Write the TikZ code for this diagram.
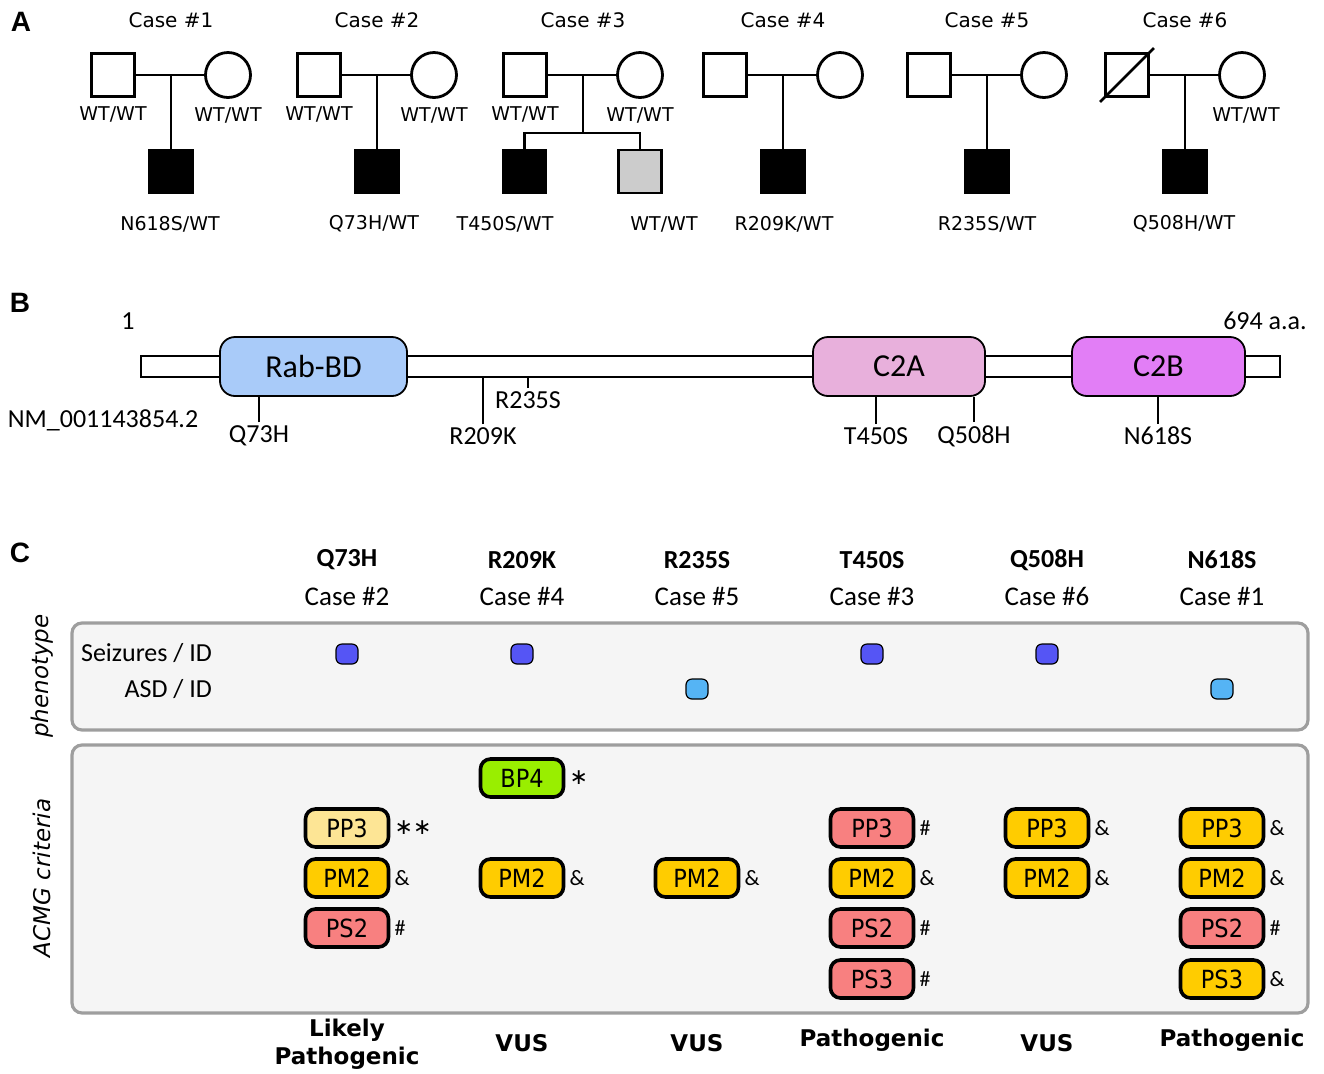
\documentclass[tikz,border=0pt]{standalone}
\usepackage{fontspec}
\setmainfont{DejaVu Sans}
\newfontfamily\calfont{Carlito}
\newfontfamily\condfont{DejaVu Sans Condensed}
\newfontfamily\headfont{Liberation Sans}
\usetikzlibrary{positioning}

\definecolor{rabblue}{HTML}{A9CBF9}
\definecolor{ctwoa}{HTML}{E8B0DC}
\definecolor{ctwob}{HTML}{E27EF6}
\definecolor{seiz}{HTML}{5555F5}
\definecolor{asd}{HTML}{55B4F5}
\definecolor{gold}{HTML}{FFCC00}
\definecolor{salmon}{HTML}{F88080}
\definecolor{paleyel}{HTML}{FDE595}
\definecolor{lime}{HTML}{99EE00}
\definecolor{panelgray}{HTML}{F5F5F5}

\begin{document}
\begin{tikzpicture}[x=0.5pt,y=-0.5pt,line width=1.4pt]

        \tikzstyle{male}=[draw, fill=white, minimum size=21.5pt, inner sep=0pt]
        \tikzstyle{female}=[draw, fill=white, circle, minimum size=22.5pt, inner sep=0pt]
        \tikzstyle{affected}=[male, fill=black]
        \tikzstyle{gt}=[inner sep=1pt, font=\fontsize{9.5}{11}\selectfont]
        \tikzstyle{casehead}=[font=\fontsize{10}{12}\selectfont]
        \tikzstyle{tag}=[font=\headfont\bfseries\fontsize{14}{16}\selectfont]
        \tikzstyle{protdom}=[draw, line width=0.9pt, rounded corners=7.5pt, minimum height=29.5pt, inner sep=0pt, font=\calfont\fontsize{16}{19}\selectfont]
        \tikzstyle{mut}=[inner sep=1pt, font=\calfont\fontsize{13}{15}\selectfont]
        \tikzstyle{muthead}=[font=\calfont\bfseries\fontsize{13}{15}\selectfont]
        \tikzstyle{colcase}=[font=\calfont\fontsize{13.5}{16}\selectfont]
        \tikzstyle{panel}=[draw=black!38, fill=panelgray, line width=1.6pt, rounded corners=5pt]
        \tikzstyle{sidelab}=[rotate=90, font=\itshape\fontsize{11.5}{14}\selectfont]
        \tikzstyle{pheno}=[anchor=east, font=\calfont\fontsize{13}{16}\selectfont]
        \tikzstyle{dot}=[draw, line width=0.6pt, rounded corners=3pt, minimum width=11pt, minimum height=10pt, inner sep=0pt]
        \tikzstyle{crit}=[draw, line width=1.8pt, rounded corners=5pt, minimum width=41.5pt, minimum height=19pt, inner sep=0pt, font=\condfont\fontsize{12.5}{14}\selectfont]
        \tikzstyle{flag}=[inner sep=0.5pt, font=\calfont\fontsize{11}{13}\selectfont]
        \tikzstyle{verdict}=[align=center, font=\bfseries\fontsize{11.5}{14}\selectfont]

        \useasboundingbox (0,0) rectangle (1324,1073);

        % A: pedigrees
        \node[tag] at (21,22)   {A};
        \foreach \n/\v in {1/171, 2/377, 3/583, 4/783, 5/987, 6/1185} {
            \node[casehead]  (case\n) at (\v,20)    {Case \#\n};
            \node[male]      (f\n)    at (\v-58,75) {};
            \node[female]    (m\n)    at (\v+57,75) {};
            \coordinate      (j\n)    at (\v,75);
            \draw (f\n) -- (m\n);
        }

        \node[affected] (c1)  at (171,171.5)   {};
        \node[affected] (c2)  at (377,171.5)   {};
        \node[affected] (c3a) at (524.5,171.5) {};
        \node[male, fill=black!20] (c3b) at (640,171.5) {};
        \node[affected] (c4)  at (783,171.5)   {};
        \node[affected] (c5)  at (987,171.5)   {};
        \node[affected] (c6)  at (1185,171.5)  {};
        \coordinate     (s3)  at (583,133);

        \draw (j1) -- (c1);
        \draw (j2) -- (c2);
        \draw (j3) -- (s3);
        \draw (c3a) |- (s3) -| (c3b);
        \draw (j4) -- (c4);
        \draw (j5) -- (c5);
        \draw (j6) -- (c6);
        \draw ([shift={(-4,4)}]f6.south west) -- ([shift={(4,-4)}]f6.north east);

        \node[gt, below=2.5pt of f1] {WT/WT};
        \node[gt, below=2.5pt of m1] {WT/WT};
        \node[gt, below=2.5pt of f2] {WT/WT};
        \node[gt, below=2.5pt of m2] {WT/WT};
        \node[gt, below=2.5pt of f3] {WT/WT};
        \node[gt, below=2.5pt of m3] {WT/WT};
        \node[gt, below=2.5pt of m6, xshift=2pt] {WT/WT};

        \node[gt] at (170,224)  {N618S/WT};
        \node[gt] at (374,224)  {Q73H/WT};
        \node[gt] at (505,224)  {T450S/WT};
        \node[gt] at (664,224)  {WT/WT};
        \node[gt] at (784,224)  {R209K/WT};
        \node[gt] at (987,224)  {R235S/WT};
        \node[gt] at (1184,224) {Q508H/WT};

        % B: protein
        \node[tag] at (20,303) {B};
        \node[mut] at (128,321)  {1};
        \node[mut] at (1265,321) {694 a.a.};
        \node[mut] at (103,420)  {NM\_001143854.2};

        \node[draw, fill=white, line width=0.9pt, minimum width=569.5pt, minimum height=10.5pt, inner sep=0pt] (prot) at (710.5,366.5) {};
        \node[protdom, fill=rabblue, minimum width=93.5pt] (rab) at (313.5,366.5) {Rab-BD};
        \node[protdom, fill=ctwoa,   minimum width=86pt]   (c2a) at (899,366.5)   {C2A};
        \node[protdom, fill=ctwob,   minimum width=86.5pt] (c2b) at (1158.5,366.5) {C2B};

        \node[mut] (q73)  at (259,436)  {Q73H};
        \node[mut] (r209) at (483,436)  {R209K};
        \node[mut] (r235) at (528,400)  {R235S};
        \node[mut] (t450) at (876,436)  {T450S};
        \node[mut] (q508) at (974,436)  {Q508H};
        \node[mut] (n618) at (1158,436) {N618S};

        \begin{scope}[line width=0.9pt]
        \draw (q73.north)  -- (q73.north |- rab.south);
        \draw (r209.north) -- (r209.north |- prot.south);
        \draw (r235.north) -- (r235.north |- prot.south);
        \draw (t450.north) -- (t450.north |- c2a.south);
        \draw (q508.north) -- (q508.north |- c2a.south);
        \draw (n618.north) -- (n618.north |- c2b.south);
        \end{scope}

        % C: summary
        \node[tag] at (20,553) {C};
        \foreach \i/\mt/\cs in {1/Q73H/2, 2/R209K/4, 3/R235S/5, 4/T450S/3, 5/Q508H/6, 6/N618S/1} {
            \node[muthead] (h\i) at (172+175*\i,560) {\mt};
            \node[colcase]       at (172+175*\i,596) {Case \#\cs};
        }

        \draw[panel] (72,623) rectangle (1308,730);
        \draw[panel] (72,745) rectangle (1308,1013);
        \node[sidelab] at (42,676) {phenotype};
        \node[sidelab] at (42,878) {ACMG criteria};

        \node[pheno] at (220,653) {Seizures / ID};
        \node[pheno] at (220,689) {ASD / ID};

        \node[dot, fill=seiz] (d1) at (347,654)  {};
        \node[dot, fill=seiz] (d2) at (522,654)  {};
        \node[dot, fill=asd]  (d3) at (697,689)  {};
        \node[dot, fill=seiz] (d4) at (872,654)  {};
        \node[dot, fill=seiz] (d5) at (1047,654) {};
        \node[dot, fill=asd]  (d6) at (1222,689) {};

        \node[crit, fill=paleyel] (pp3a) at (347,828)  {PP3};
        \node[crit, fill=gold]    (pm2a) at (347,878)  {PM2};
        \node[crit, fill=salmon]  (ps2a) at (347,928)  {PS2};
        \node[crit, fill=lime]    (bp4b) at (522,778)  {BP4};
        \node[crit, fill=gold]    (pm2b) at (522,878)  {PM2};
        \node[crit, fill=gold]    (pm2c) at (697,878)  {PM2};
        \node[crit, fill=salmon]  (pp3d) at (872,828)  {PP3};
        \node[crit, fill=gold]    (pm2d) at (872,878)  {PM2};
        \node[crit, fill=salmon]  (ps2d) at (872,928)  {PS2};
        \node[crit, fill=salmon]  (ps3d) at (872,979)  {PS3};
        \node[crit, fill=gold]    (pp3e) at (1047,828) {PP3};
        \node[crit, fill=gold]    (pm2e) at (1047,878) {PM2};
        \node[crit, fill=gold]    (pp3f) at (1222,828) {PP3};
        \node[crit, fill=gold]    (pm2f) at (1222,878) {PM2};
        \node[crit, fill=salmon]  (ps2f) at (1222,928) {PS2};
        \node[crit, fill=gold]    (ps3f) at (1222,979) {PS3};

        \node[flag, right=1pt of pp3a, font=\fontsize{11}{13}\selectfont] {∗∗};
        \node[flag, right=1pt of pm2a] {\&};
        \node[flag, right=1pt of ps2a] {\#};
        \node[flag, right=1pt of bp4b, font=\fontsize{11}{13}\selectfont] {∗};
        \node[flag, right=1pt of pm2b] {\&};
        \node[flag, right=1pt of pm2c] {\&};
        \node[flag, right=1pt of pp3d] {\#};
        \node[flag, right=1pt of pm2d] {\&};
        \node[flag, right=1pt of ps2d] {\#};
        \node[flag, right=1pt of ps3d] {\#};
        \node[flag, right=1pt of pp3e] {\&};
        \node[flag, right=1pt of pm2e] {\&};
        \node[flag, right=1pt of pp3f] {\&};
        \node[flag, right=1pt of pm2f] {\&};
        \node[flag, right=1pt of ps2f] {\#};
        \node[flag, right=1pt of ps3f] {\&};

        \node[verdict] at (347,1044)  {Likely\\Pathogenic};
        \node[verdict] at (522,1043)  {VUS};
        \node[verdict] at (697,1043)  {VUS};
        \node[verdict] at (872,1040)  {Pathogenic};
        \node[verdict] at (1047,1043) {VUS};
        \node[verdict] at (1232,1040) {Pathogenic};

\end{tikzpicture}
\end{document}
